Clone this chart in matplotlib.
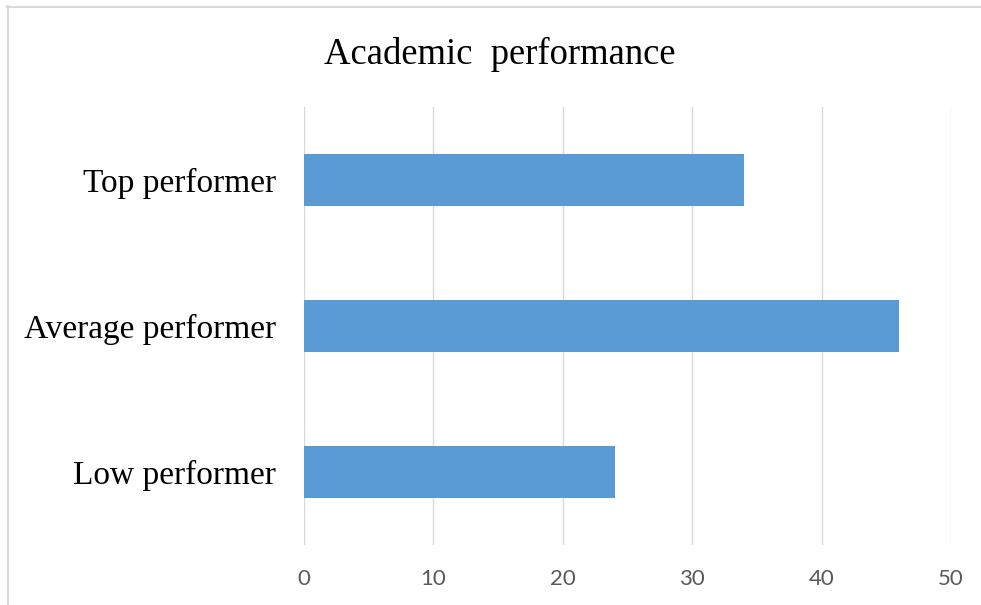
import matplotlib.pyplot as plt
from matplotlib.lines import Line2D

categories = ["Low performer", "Average performer", "Top performer"]
values = [24, 46, 34]
x_ticks = [0, 10, 20, 30, 40, 50]

fig = plt.figure(figsize=(9.81, 6.05), dpi=100)
ax = fig.add_axes([304 / 981, 1 - 545 / 605, (951 - 304) / 981, (545 - 107) / 605])

ax.barh(range(len(categories)), values, height=0.355, color="#5b9bd5", zorder=3)

ax.set_xlim(0, 50)
ax.set_ylim(-0.5, len(categories) - 0.5)
ax.set_xticks(x_ticks)
ax.set_xticklabels([str(t) for t in x_ticks], family="Lato", fontsize=16, color="#595959")
ax.set_yticks(range(len(categories)))
ax.set_yticklabels(categories, family="Liberation Serif", fontsize=24, color="black")
ax.tick_params(axis="x", length=0, pad=17)
ax.tick_params(axis="y", length=0, pad=20)
ax.grid(axis="x", color="#d9d9d9", linewidth=1, zorder=0)
for s in ax.spines.values():
    s.set_visible(False)

fig.text(500 / 981, 1 - 54 / 605, "Academic  performance", family="Liberation Serif",
         fontsize=26.4, ha="center", va="center")

# chart frame (only top and left visible in the crop)
fig.add_artist(Line2D([7.5 / 981, 7.5 / 981], [0, 1 - 6 / 605], transform=fig.transFigure,
                      color="#d9d9d9", linewidth=1.5))
fig.add_artist(Line2D([7 / 981, 1], [1 - 6.5 / 605, 1 - 6.5 / 605], transform=fig.transFigure,
                      color="#d9d9d9", linewidth=1.5))

fig.savefig("out.png", dpi=100)
